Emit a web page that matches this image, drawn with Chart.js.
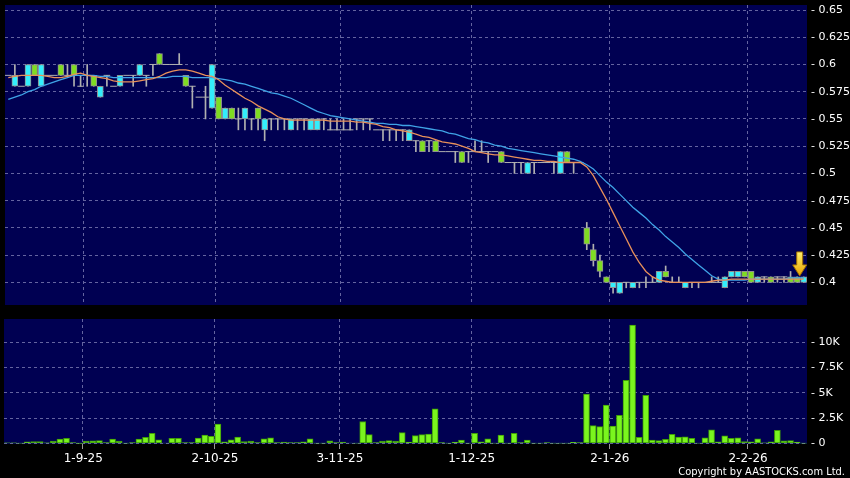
<!DOCTYPE html>
<html>
<head>
<meta charset="utf-8">
<script src="https://cdn.jsdelivr.net/npm/chart.js@4.4.1/dist/chart.umd.min.js"></script>
<style>
  html, body { margin: 0; padding: 0; background: #000; }
  #wrap { position: relative; width: 850px; height: 478px; overflow: hidden; background: #000; }
  #price { position: absolute; left: 0; top: 0; }
  #vol { position: absolute; left: 0; top: 310px; }
  #copy { position: absolute; right: 5px; top: 465px; color: #fff; font: 11px "DejaVu Sans Condensed", "DejaVu Sans", sans-serif; white-space: nowrap; }
</style>
</head>
<body>
<div id="wrap">
  <canvas id="price" width="850" height="310"></canvas>
  <canvas id="vol" width="850" height="168"></canvas>
  <div id="copy">Copyright by AASTOCKS.com Ltd.</div>
</div>
<script>
// trading days shown on the chart
const dates = [
  "14-8-25","15-8-25","18-8-25","19-8-25","20-8-25","21-8-25","22-8-25","25-8-25","26-8-25","27-8-25","28-8-25","29-8-25",
  "1-9-25","2-9-25","3-9-25","4-9-25","5-9-25","8-9-25","9-9-25","10-9-25","11-9-25","15-9-25","16-9-25","17-9-25","18-9-25","19-9-25","22-9-25","23-9-25","24-9-25","25-9-25","29-9-25","30-9-25",
  "2-10-25","3-10-25","6-10-25","8-10-25","9-10-25","10-10-25","13-10-25","14-10-25","15-10-25","16-10-25","17-10-25","20-10-25","22-10-25","23-10-25","24-10-25","27-10-25","28-10-25","30-10-25","31-10-25",
  "3-11-25","4-11-25","5-11-25","6-11-25","7-11-25","10-11-25","11-11-25","12-11-25","13-11-25","14-11-25","17-11-25","18-11-25","19-11-25","20-11-25","21-11-25","24-11-25","25-11-25","26-11-25","27-11-25","28-11-25",
  "1-12-25","2-12-25","3-12-25","4-12-25","5-12-25","8-12-25","9-12-25","10-12-25","11-12-25","12-12-25","15-12-25","16-12-25","17-12-25","18-12-25","19-12-25","22-12-25","23-12-25","24-12-25","29-12-25","30-12-25","31-12-25",
  "2-1-26","5-1-26","6-1-26","7-1-26","8-1-26","9-1-26","12-1-26","13-1-26","14-1-26","15-1-26","16-1-26","19-1-26","20-1-26","21-1-26","22-1-26","23-1-26","26-1-26","27-1-26","28-1-26","29-1-26","30-1-26",
  "2-2-26","3-2-26","4-2-26","5-2-26","6-2-26","9-2-26","10-2-26","11-2-26","12-2-26"
];
const tickLabels = ["1-9-25", "2-10-25", "3-11-25", "1-12-25", "2-1-26", "2-2-26"];

const open = [
  .59,.58,.58,.58,.60,.58,.59,.59,.60,.59, .60,.58,.59,.59,.57,.59,.58,.58,.59,.59,
  .59,.59,.60,.61,.60,.60,.60,.59,.58,.57, .57,.56,.57,.55,.56,.55,.55,.55,.56,.54,
  .55,.55,.55,.54,.55,.55,.54,.54,.55,.54, .54,.54,.54,.55,.55,.55,.54,.54,.54,.54,
  .54,.53,.53,.53,.53,.53,.52,.52,.52,.52, .52,.52,.52,.52,.52,.52,.51,.51,.51,.50,
  .51,.51,.51,.51,.50,.52,.51,.51,.45,.43, .42,.405,.395,.39,.40,.395,.40,.40,.40,.40,
  .41,.40,.40,.395,.40,.40,.40,.40,.40,.395, .405,.405,.41,.41,.40,.405,.405,.405,.405,.405,
  .405,.40
];
const high = [
  .59,.60,.58,.60,.60,.60,.59,.59,.60,.60, .60,.59,.60,.59,.58,.59,.58,.59,.59,.59,
  .60,.59,.60,.61,.60,.60,.61,.59,.58,.57, .58,.60,.57,.56,.56,.56,.56,.55,.56,.55,
  .55,.55,.55,.55,.55,.55,.55,.55,.55,.55, .55,.55,.55,.55,.55,.55,.54,.54,.54,.54,
  .54,.54,.53,.53,.53,.53,.52,.52,.52,.52, .52,.53,.53,.52,.52,.52,.51,.51,.51,.51,
  .51,.51,.51,.51,.52,.52,.51,.51,.455,.435, .425,.405,.40,.40,.40,.40,.40,.405,.405,.41,
  .415,.405,.405,.40,.40,.40,.40,.405,.405,.405, .41,.41,.41,.41,.405,.405,.405,.405,.405,.41,
  .405,.405
];
const low = [
  .59,.58,.58,.58,.59,.58,.59,.59,.59,.59, .58,.58,.58,.58,.57,.58,.58,.58,.59,.58,
  .59,.58,.59,.60,.60,.60,.60,.58,.56,.57, .55,.56,.55,.55,.55,.54,.54,.54,.54,.53,
  .54,.54,.54,.54,.54,.54,.54,.54,.54,.54, .54,.54,.54,.54,.54,.54,.54,.53,.53,.53,
  .53,.53,.52,.52,.52,.52,.52,.52,.51,.51, .51,.52,.52,.51,.52,.51,.51,.50,.50,.50,
  .50,.51,.51,.50,.50,.51,.50,.51,.43,.415, .405,.40,.39,.39,.395,.395,.395,.395,.40,.40,
  .405,.40,.40,.395,.395,.395,.40,.40,.40,.395, .405,.405,.405,.40,.40,.40,.40,.40,.40,.40,
  .40,.40
];
const close = [
  .59,.59,.58,.60,.59,.60,.59,.59,.59,.59, .59,.58,.59,.58,.58,.59,.58,.59,.59,.59,
  .60,.59,.60,.60,.60,.60,.60,.58,.58,.57, .57,.60,.55,.56,.55,.55,.56,.55,.55,.55,
  .55,.55,.55,.55,.55,.55,.55,.55,.55,.54, .54,.54,.54,.55,.55,.55,.54,.54,.54,.54,
  .54,.54,.53,.52,.53,.52,.52,.52,.52,.51, .52,.52,.52,.52,.52,.51,.51,.51,.51,.51,
  .51,.51,.51,.51,.52,.51,.51,.51,.435,.42, .41,.40,.40,.40,.40,.40,.40,.40,.40,.41,
  .405,.40,.40,.40,.40,.40,.40,.40,.40,.405, .41,.41,.405,.40,.405,.405,.40,.405,.405,.40,
  .40,.405
];
const ma10 = [
  .588,.589,.590,.590,.590,.590,.589,.588,.588,.589, .591,.592,.590,.589,.588,.587,.585,.584,.584,.584,
  .585,.586,.587,.589,.592,.594,.595,.595,.594,.592, .590,.589,.586,.581,.577,.573,.569,.566,.562,.559,
  .556,.552,.550,.549,.549,.549,.549,.549,.549,.548, .548,.548,.548,.547,.547,.546,.545,.543,.542,.540,
  .539,.538,.536,.534,.533,.531,.529,.528,.527,.525, .523,.520,.519,.518,.517,.517,.516,.515,.514,.513,
  .512,.512,.511,.511,.510,.510,.510,.510,.506,.498, .487,.476,.464,.452,.440,.428,.418,.410,.405,.402,
  .401,.400,.400,.400,.400,.400,.400,.401,.402,.402, .403,.403,.403,.403,.403,.403,.403,.403,.403,.403,
  .403,.403
];
const ma20 = [
  .568,.570,.572,.575,.577,.580,.582,.584,.586,.588, .590,.590,.590,.590,.589,.589,.588,.588,.588,.588,
  .588,.588,.588,.588,.588,.589,.589,.589,.588,.588, .588,.588,.587,.586,.585,.583,.582,.580,.578,.576,
  .574,.573,.571,.569,.566,.563,.560,.557,.555,.553, .552,.551,.550,.549,.548,.547,.546,.546,.545,.545,
  .544,.544,.543,.542,.541,.540,.539,.537,.536,.534, .532,.531,.529,.528,.526,.525,.523,.522,.521,.520,
  .519,.518,.517,.516,.515,.514,.513,.511,.508,.504, .498,.492,.487,.481,.475,.469,.464,.459,.453,.448,
  .442,.437,.432,.426,.421,.416,.411,.406,.403,.402, .402,.402,.402,.403,.403,.403,.403,.403,.403,.404,
  .404,.404
];
// volume in thousands of shares
const volume = [
  .07,.07,.03,.17,.2,.2,.07,.23,.43,.5, .1,.01,.23,.27,.3,.1,.43,.23,.02,.1,
  .43,.6,1.0,.35,.05,.5,.5,.1,.1,.53, .83,.7,1.93,.17,.37,.63,.2,.23,.1,.47,
  .57,.08,.15,.08,.08,.17,.47,.02,.02,.27, .08,.15,.05,.02,2.17,.87,.1,.23,.3,.23,
  1.07,.13,.77,.87,.93,3.43,.08,.02,.13,.33, .03,1.0,.17,.47,.02,.83,.02,1.0,.1,.33,
  .02,.02,.1,.03,.03,.02,.12,.1,4.87,1.77, 1.67,3.79,1.73,2.79,6.25,11.7,.6,4.75,.33,.3,
  .4,.9,.63,.66,.5,.03,.56,1.36,.17,.76, .5,.56,.2,.17,.47,.07,.17,1.3,.27,.3,
  .13,.03
];
const priceTicks = [0.4, 0.425, 0.45, 0.475, 0.5, 0.525, 0.55, 0.575, 0.6, 0.625, 0.65];
const volTicks = [0, 2.5, 5, 7.5, 10];
const volTickLabels = ["0", "2.5K", "5K", "7.5K", "10K"];

const UP = "#33eefc";
const DOWN = "#7fdc22";
const WICK = "#b0b0b0";
const GRID = "#6464a0";
const PANEL = "#000052";

const bodyData = open.map((o, i) => o === close[i] ? null : [o, close[i]]);
const bodyColors = open.map((o, i) => close[i] > o ? UP : DOWN);
const wickData = low.map((l, i) => high[i] > l ? [l, high[i]] : null);
const dojiData = open.map((o, i) => o === close[i] ? o : null);

const isMonthStart = i => tickLabels.includes(dates[i]);

const panelBg = {
    id: "panelBg",
    beforeDraw(chart) {
        const a = chart.chartArea;
        chart.ctx.save();
        chart.ctx.fillStyle = PANEL;
        chart.ctx.fillRect(a.left, a.top, a.right - a.left, a.bottom - a.top);
        chart.ctx.restore();
    }
};

const lastArrow = {
    id: "lastArrow",
    afterDatasetsDraw(chart) {
        const i = close.length - 1;
        const x = chart.scales.x.getPixelForValue(i) - 4;
        const tip = chart.scales.y.getPixelForValue(high[i]) - 1;
        const ctx = chart.ctx;
        ctx.save();
        const g = ctx.createLinearGradient(0, tip - 24, 0, tip);
        g.addColorStop(0, "#fff06a");
        g.addColorStop(1, "#e8a200");
        ctx.fillStyle = g;
        ctx.strokeStyle = "#9c6a00";
        ctx.lineWidth = 1;
        ctx.beginPath();
        ctx.moveTo(x - 3, tip - 24);
        ctx.lineTo(x + 3, tip - 24);
        ctx.lineTo(x + 3, tip - 11);
        ctx.lineTo(x + 7, tip - 11);
        ctx.lineTo(x, tip);
        ctx.lineTo(x - 7, tip - 11);
        ctx.lineTo(x - 3, tip - 11);
        ctx.closePath();
        ctx.fill();
        ctx.stroke();
        ctx.restore();
    }
};

Chart.defaults.font.family = "DejaVu Sans";
Chart.defaults.color = "#fff";

// keep axis label overhang from shrinking the plot
const fixRightAxis = s => { s.width = 43; s.paddingTop = 0; s.paddingBottom = 0; };

const priceChart = new Chart(document.getElementById("price"), {
    type: "bar",
    data: {
        labels: dates,
        datasets: [
            { type: "line", label: "MA10", data: ma10, borderColor: "#e8905a", borderWidth: 1.3, pointRadius: 0, order: 1 },
            { type: "line", label: "MA20", data: ma20, borderColor: "#3fa3e6", borderWidth: 1.3, pointRadius: 0, order: 2 },
            { type: "line", label: "Doji", data: dojiData, showLine: false, pointStyle: "line",
              pointRadius: 3.3, pointBorderColor: WICK, pointBorderWidth: 1, order: 3 },
            { label: "Body", data: bodyData, backgroundColor: bodyColors, borderColor: "#909090",
              borderWidth: 1, borderSkipped: false, barThickness: 6, grouped: false, order: 4 },
            { label: "Wick", data: wickData, backgroundColor: WICK, barThickness: 1, grouped: false, order: 5 }
        ]
    },
    options: {
        responsive: false,
        animation: false,
        devicePixelRatio: 1,
        layout: { padding: { left: 4, top: 5, right: 0, bottom: -2 } },
        plugins: { legend: { display: false }, tooltip: { enabled: false } },
        scales: {
            x: {
                grid: {
                    offset: true,
                    color: ctx => isMonthStart(ctx.index) ? GRID : "rgba(0,0,0,0)",
                    drawTicks: false
                },
                border: { display: false, dash: [3, 3] },
                ticks: { display: false, autoSkip: false },
                afterFit: s => { s.height = 2; s.paddingLeft = 0; s.paddingRight = 0; }
            },
            y: {
                position: "right",
                min: 0.3792,
                max: 0.6546,
                afterBuildTicks: s => { s.ticks = priceTicks.map(v => ({ value: v })); },
                grid: { color: GRID, drawTicks: false },
                border: { display: false, dash: [3, 3] },
                ticks: { color: "#fff", font: { size: 11 }, padding: 4, callback: v => "- " + v },
                afterFit: fixRightAxis
            }
        }
    },
    plugins: [panelBg, lastArrow]
});

const volChart = new Chart(document.getElementById("vol"), {
    type: "bar",
    data: {
        labels: dates,
        datasets: [{
            label: "Volume", data: volume, backgroundColor: "#7af51e", borderColor: "#3f9e06",
            borderWidth: 1, borderSkipped: false, barThickness: 6, grouped: false
        }]
    },
    options: {
        responsive: false,
        animation: false,
        devicePixelRatio: 1,
        layout: { padding: { left: 4, top: 9, right: 0, bottom: 0 } },
        plugins: { legend: { display: false }, tooltip: { enabled: false } },
        scales: {
            x: {
                grid: {
                    offset: true,
                    color: ctx => isMonthStart(ctx.index) ? GRID : "rgba(0,0,0,0)",
                    drawTicks: true,
                    tickLength: 5,
                    tickColor: ctx => isMonthStart(ctx.index) ? "#9a9a9a" : "rgba(0,0,0,0)"
                },
                border: { display: false, dash: [3, 3] },
                ticks: {
                    autoSkip: false, maxRotation: 0, color: "#fff", font: { size: 12 }, padding: 3,
                    labelOffset: -3,
                    callback: (v, i) => isMonthStart(i) ? dates[i] : ""
                },
                afterFit: s => { s.height = 34; s.paddingLeft = 0; s.paddingRight = 0; }
            },
            y: {
                position: "right",
                min: -0.05,
                max: 12.3,
                afterBuildTicks: s => { s.ticks = volTicks.map(v => ({ value: v })); },
                grid: { color: GRID, drawTicks: false },
                border: { display: false, dash: [3, 3] },
                ticks: { color: "#fff", font: { size: 11 }, padding: 4, callback: (v, i) => "- " + volTickLabels[i] },
                afterFit: fixRightAxis
            }
        }
    },
    plugins: [panelBg]
});
</script>
</body>
</html>
